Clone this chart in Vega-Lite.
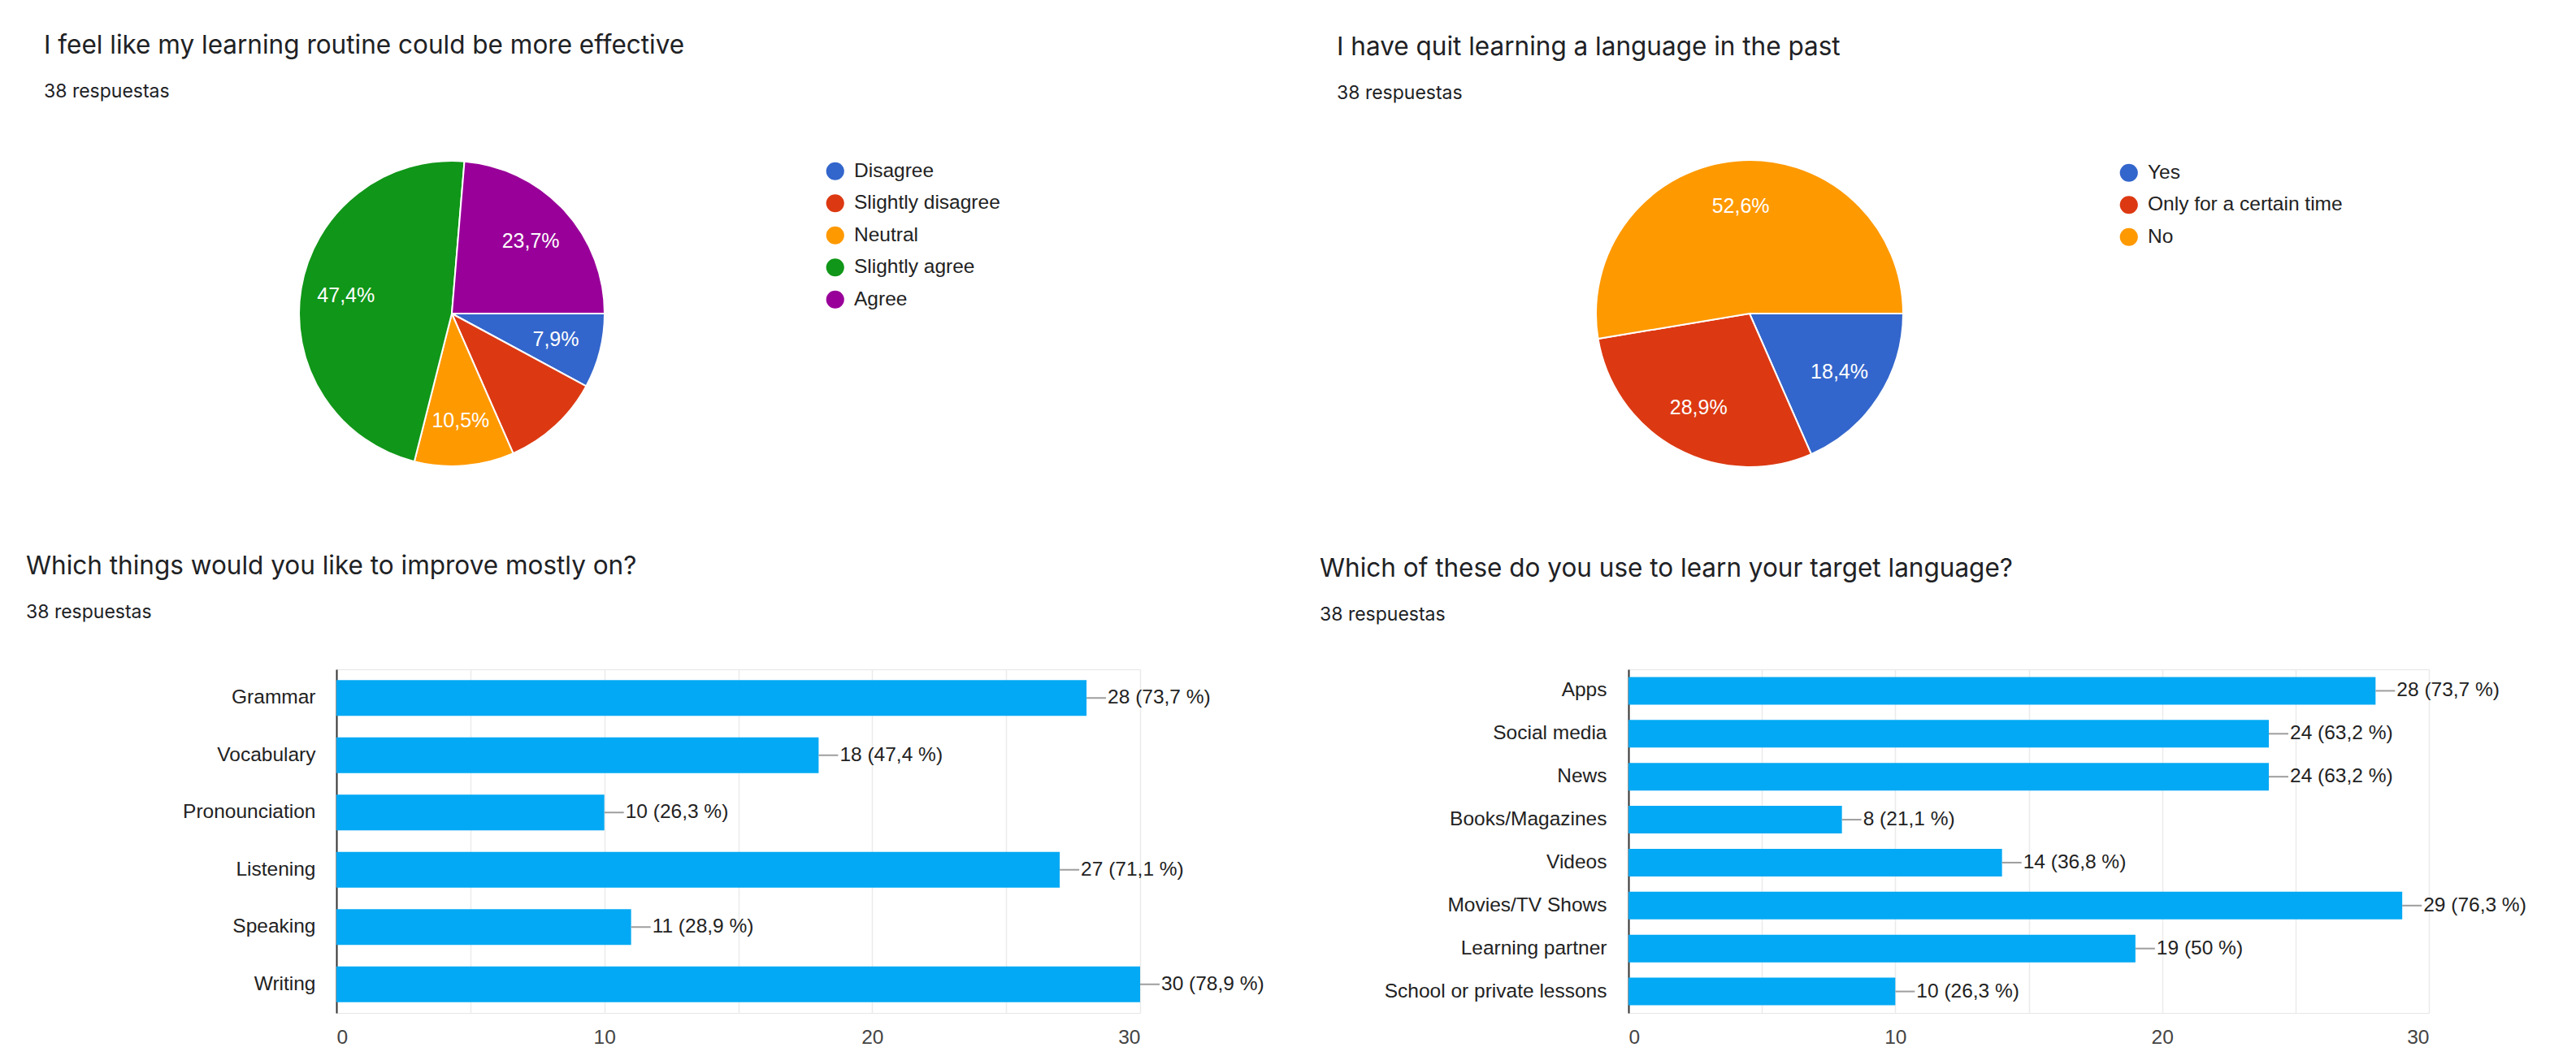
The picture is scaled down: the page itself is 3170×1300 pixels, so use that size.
{
  "$schema": "https://vega.github.io/schema/vega-lite/v6.json",
  "padding": {"left": 31, "top": 40, "right": 0, "bottom": 0},
  "background": "white",
  "config": {
    "font": "Liberation Sans",
    "view": {"stroke": null},
    "title": {"anchor": "start", "frame": "group", "font": "Inter", "fontSize": 31.5, "fontWeight": "normal", "color": "#202124", "subtitleFont": "Inter", "subtitleFontSize": 23, "subtitleColor": "#202124", "subtitlePadding": 30},
    "axis": {"labelFont": "Liberation Sans", "labelFontSize": 24.5}
  },
  "datasets": {
    "pie1": [
      {"answer": "Disagree", "n": 3, "lab": "7,9%", "k": 1},
      {"answer": "Slightly disagree", "n": 4, "lab": "", "k": 2},
      {"answer": "Neutral", "n": 4, "lab": "10,5%", "k": 3},
      {"answer": "Slightly agree", "n": 18, "lab": "47,4%", "k": 4},
      {"answer": "Agree", "n": 9, "lab": "23,7%", "k": 5}
    ],
    "pie2": [
      {"answer": "Yes", "n": 7, "lab": "18,4%", "k": 1},
      {"answer": "Only for a certain time", "n": 11, "lab": "28,9%", "k": 2},
      {"answer": "No", "n": 20, "lab": "52,6%", "k": 3}
    ],
    "bar1": [
      {"item": "Grammar", "n": 28, "lab": "28 (73,7 %)"},
      {"item": "Vocabulary", "n": 18, "lab": "18 (47,4 %)"},
      {"item": "Pronounciation", "n": 10, "lab": "10 (26,3 %)"},
      {"item": "Listening", "n": 27, "lab": "27 (71,1 %)"},
      {"item": "Speaking", "n": 11, "lab": "11 (28,9 %)"},
      {"item": "Writing", "n": 30, "lab": "30 (78,9 %)"}
    ],
    "bar2": [
      {"item": "Apps", "n": 28, "lab": "28 (73,7 %)"},
      {"item": "Social media", "n": 24, "lab": "24 (63,2 %)"},
      {"item": "News", "n": 24, "lab": "24 (63,2 %)"},
      {"item": "Books/Magazines", "n": 8, "lab": "8 (21,1 %)"},
      {"item": "Videos", "n": 14, "lab": "14 (36,8 %)"},
      {"item": "Movies/TV Shows", "n": 29, "lab": "29 (76,3 %)"},
      {"item": "Learning partner", "n": 19, "lab": "19 (50 %)"},
      {"item": "School or private lessons", "n": 10, "lab": "10 (26,3 %)"}
    ]
  },
  "bounds": "flush",
  "spacing": 638,
  "vconcat": [
    {
      "bounds": "flush",
      "spacing": 1313,
      "resolve": {"scale": {"color": "independent", "theta": "independent"}, "legend": {"color": "independent"}},
      "hconcat": [
        {
          "width": 284, "height": 400,
          "title": {"text": "I feel like my learning routine could be more effective", "subtitle": "38 respuestas", "dx": -360, "offset": 61},
          "data": {"name": "pie1"},
          "encoding": {
            "theta": {"field": "n", "type": "quantitative", "stack": true, "scale": {"range": [1.5707963, 7.8539816]}},
            "order": {"field": "k", "type": "quantitative"}
          },
          "layer": [
            {
              "mark": {"type": "arc", "outerRadius": 188, "stroke": "white", "strokeWidth": 2},
              "encoding": {
                "color": {"field": "answer", "type": "nominal",
                  "scale": {"domain": ["Disagree", "Slightly disagree", "Neutral", "Slightly agree", "Agree"], "range": ["#3366cc", "#dc3912", "#ff9900", "#109618", "#990099"]},
                  "legend": {"title": null, "orient": "none", "legendX": 601.5, "legendY": 12.5, "symbolType": "circle", "symbolSize": 490, "symbolOpacity": 1, "symbolStrokeWidth": 0, "labelFont": "Liberation Sans", "labelFontSize": 24.5, "labelColor": "#222", "labelLimit": 500, "rowPadding": 14.5, "labelOffset": 11}}
              }
            },
            {
              "mark": {"type": "text", "radius": 132, "fill": "white", "fontSize": 25, "font": "Liberation Sans"},
              "encoding": {"text": {"field": "lab"}, "detail": {"field": "answer"}}
            }
          ]
        },
        {
          "width": 284, "height": 400,
          "title": {"text": "I have quit learning a language in the past", "subtitle": "38 respuestas", "dx": -366, "offset": 59},
          "data": {"name": "pie2"},
          "encoding": {
            "theta": {"field": "n", "type": "quantitative", "stack": true, "scale": {"range": [1.5707963, 7.8539816]}},
            "order": {"field": "k", "type": "quantitative"}
          },
          "layer": [
            {
              "mark": {"type": "arc", "outerRadius": 189, "stroke": "white", "strokeWidth": 2},
              "encoding": {
                "color": {"field": "answer", "type": "nominal",
                  "scale": {"domain": ["Yes", "Only for a certain time", "No"], "range": ["#3366cc", "#dc3912", "#ff9900"]},
                  "legend": {"title": null, "orient": "none", "legendX": 596.5, "legendY": 14.5, "symbolType": "circle", "symbolSize": 490, "symbolOpacity": 1, "symbolStrokeWidth": 0, "labelFont": "Liberation Sans", "labelFontSize": 24.5, "labelColor": "#222", "labelLimit": 500, "rowPadding": 14.5, "labelOffset": 11}}
              }
            },
            {
              "mark": {"type": "text", "radius": 132, "fill": "white", "fontSize": 25, "font": "Liberation Sans"},
              "encoding": {"text": {"field": "lab"}, "detail": {"field": "answer"}}
            }
          ]
        }
      ]
    },
    {
      "bounds": "flush",
      "spacing": 601,
      "hconcat": [
        {
          "width": 989, "height": 423,
          "title": {"text": "Which things would you like to improve mostly on?", "subtitle": "38 respuestas", "dx": -382, "offset": 58},
          "data": {"name": "bar1"},
          "view": {"stroke": "#e6e6e6"},
          "encoding": {
            "y": {"field": "item", "type": "nominal", "sort": null, "scale": {"paddingInner": 0.375, "paddingOuter": 0.1875},
              "axis": {"title": null, "domain": true, "domainColor": "#333", "domainWidth": 2, "ticks": false, "grid": false, "labelPadding": 26, "labelColor": "#222", "labelLimit": 800}},
            "x": {"field": "n", "type": "quantitative", "scale": {"domain": [0, 30], "nice": false},
              "axis": {"title": null, "values": [0, 5, 10, 15, 20, 25, 30], "labelExpr": "datum.value % 10 === 0 ? datum.label : ''", "grid": true, "gridColor": "#ebebeb", "gridWidth": 1.5, "domain": false, "ticks": false, "labelPadding": 18, "labelColor": "#444"}}
          },
          "layer": [
            {"mark": {"type": "bar", "color": "#03a9f4"}},
            {"mark": {"type": "rule", "color": "#9e9e9e", "strokeWidth": 2, "x2Offset": 24}, "encoding": {"x2": {"field": "n"}}},
            {"mark": {"type": "text", "align": "left", "baseline": "middle", "dx": 26, "fontSize": 24.5, "color": "#222"}, "encoding": {"text": {"field": "lab"}}}
          ]
        },
        {
          "width": 985, "height": 423,
          "title": {"text": "Which of these do you use to learn your target language?", "subtitle": "38 respuestas", "dx": -380, "offset": 55, "subtitlePadding": 30},
          "data": {"name": "bar2"},
          "view": {"stroke": "#e6e6e6"},
          "encoding": {
            "y": {"field": "item", "type": "nominal", "sort": null, "scale": {"paddingInner": 0.355, "paddingOuter": 0.1775},
              "axis": {"title": null, "domain": true, "domainColor": "#333", "domainWidth": 2, "ticks": false, "grid": false, "labelPadding": 27, "labelColor": "#222", "labelLimit": 800}},
            "x": {"field": "n", "type": "quantitative", "scale": {"domain": [0, 30], "nice": false},
              "axis": {"title": null, "values": [0, 5, 10, 15, 20, 25, 30], "labelExpr": "datum.value % 10 === 0 ? datum.label : ''", "grid": true, "gridColor": "#ebebeb", "gridWidth": 1.5, "domain": false, "ticks": false, "labelPadding": 18, "labelColor": "#444"}}
          },
          "layer": [
            {"mark": {"type": "bar", "color": "#03a9f4"}},
            {"mark": {"type": "rule", "color": "#9e9e9e", "strokeWidth": 2, "x2Offset": 24}, "encoding": {"x2": {"field": "n"}}},
            {"mark": {"type": "text", "align": "left", "baseline": "middle", "dx": 26, "fontSize": 24.5, "color": "#222"}, "encoding": {"text": {"field": "lab"}}}
          ]
        }
      ]
    }
  ]
}
